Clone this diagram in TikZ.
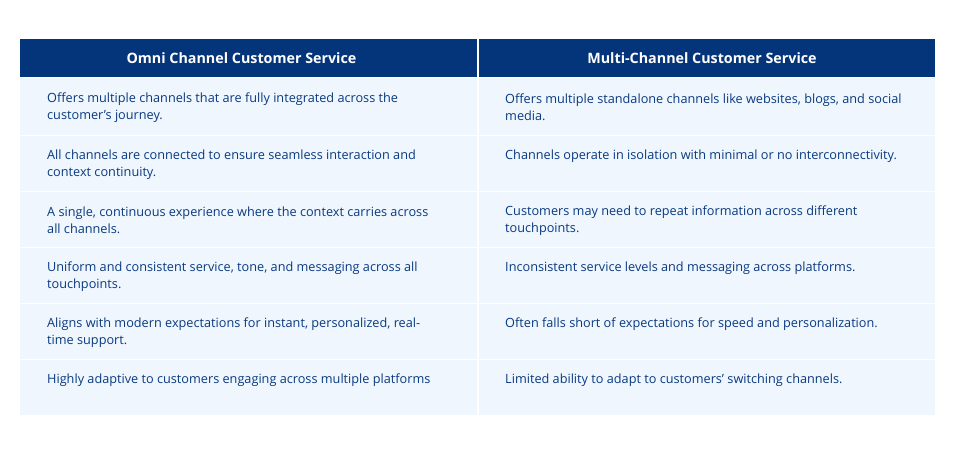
\documentclass[tikz,border=0pt]{standalone}
\usepackage{fontspec}
\setmainfont{Open Sans}
\definecolor{hdr}{HTML}{04357A}
\definecolor{cellbg}{HTML}{EFF6FE}
\definecolor{txt}{HTML}{0A3A80}
\begin{document}
\begin{tikzpicture}[x=1pt,y=-1pt,
  hcell/.style={fill=hdr,draw=none},
  bcell/.style={fill=cellbg,draw=none},
  htext/.style={text=white,font=\fontsize{14.3}{17}\selectfont\bfseries},
  btext/.style={text=txt,font=\fontsize{12.7}{17}\selectfont,anchor=west,align=left,inner sep=0}]
\useasboundingbox (0,0) rectangle (955,454);
\fill[white] (0,0) rectangle (955,454);
\fill[hcell] (20,39) rectangle (477,77);
\fill[hcell] (479,39) rectangle (935,77);
\node[htext] (h1) at (241.5,58.5) {Omni Channel Customer Service};
\node[htext] (h2) at (702,58.5) {Multi-Channel Customer Service};
\foreach \t/\b in {78/135,136/191,192/247,248/303,304/359,360/415}{
  \fill[bcell] (20,\t) rectangle (477,\b);
  \fill[bcell] (479,\t) rectangle (935,\b);
}
\node[btext] (l1) at (47,107.5) {Offers multiple channels that are fully integrated across the\\customer's journey.};
\node[btext] (r1) at (505,107.5) {Offers multiple standalone channels like websites, blogs, and social\\media.};
\node[btext] (l2) at (47,164.5) {All channels are connected to ensure seamless interaction and\\context continuity.};
\node[btext] (r2) at (505,156) {Channels operate in isolation with minimal or no interconnectivity.};
\node[btext] (l3) at (47,220.5) {A single, continuous experience where the context carries across\\all channels.};
\node[btext] (r3) at (505,220.5) {Customers may need to repeat information across different\\touchpoints.};
\node[btext] (l4) at (47,276.5) {Uniform and consistent service, tone, and messaging across all\\touchpoints.};
\node[btext] (r4) at (505,268) {Inconsistent service levels and messaging across platforms.};
\node[btext] (l5) at (47,332.5) {Aligns with modern expectations for instant, personalized, real-\\time support.};
\node[btext] (r5) at (505,324) {Often falls short of expectations for speed and personalization.};
\node[btext] (l6) at (47,380.5) {Highly adaptive to customers engaging across multiple platforms};
\node[btext] (r6) at (505,380.5) {Limited ability to adapt to customers' switching channels.};
\end{tikzpicture}
\end{document}
